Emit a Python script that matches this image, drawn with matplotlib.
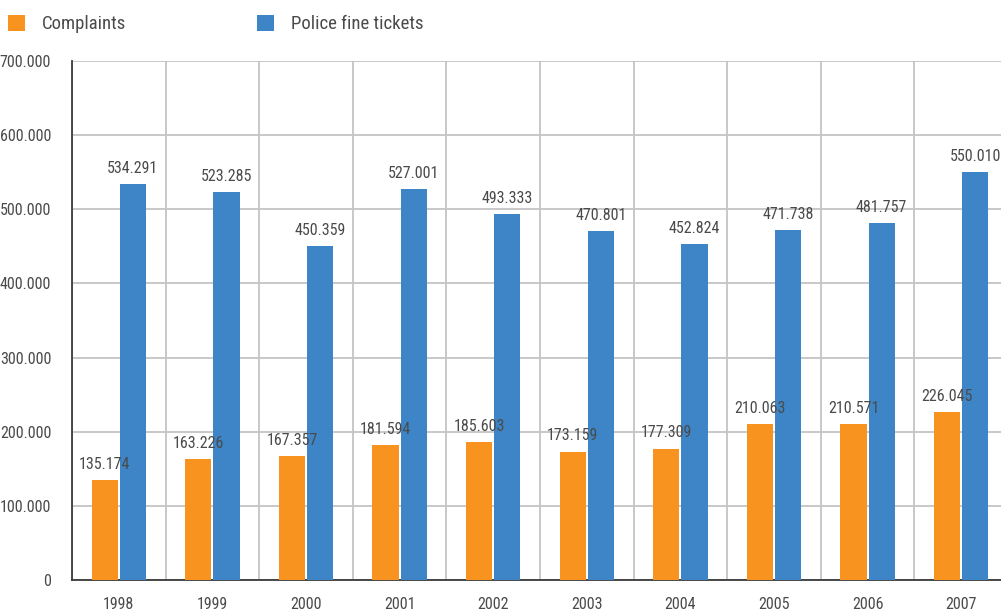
import numpy as np
import matplotlib.pyplot as plt
from matplotlib import font_manager as fm
from matplotlib.ticker import FuncFormatter

# Data
years = ['1998', '1999', '2000', '2001', '2002', '2003', '2004', '2005', '2006', '2007']
complaints = [135174, 163226, 167357, 181594, 185603, 173159, 177309, 210063, 210571, 226045]
fines = [534291, 523285, 450359, 527001, 493333, 470801, 452824, 471738, 481757, 550010]

orange = '#F7931E'
blue = '#3D85C6'
text_col = '#4a4a4a'

# Look for a narrow / condensed sans font (reference uses a condensed face)
narrow = [f for f in fm.fontManager.ttflist
          if f.style == 'normal' and f.weight in (400, 'normal', 'regular')
          and ('Narrow' in f.name or 'Condensed' in f.name
               or f.stretch in ('condensed', 'semi-condensed', 'extra-condensed'))]
if narrow:
    pick = sorted(narrow, key=lambda f: (f.name != 'Roboto Condensed',
                                         f.name != 'Liberation Sans Narrow'))[0]
    plt.rcParams['font.family'] = [pick.name, 'DejaVu Sans']
    plt.rcParams['font.stretch'] = pick.stretch
else:
    plt.rcParams['font.family'] = ['DejaVu Sans']


def dotted(v, pos=None):
    # thousands separated with dots
    return f'{int(v):,}'.replace(',', '.')


fig = plt.figure(figsize=(10.01, 6.12), dpi=100)
ax = fig.add_axes([72 / 1001, 32 / 612, 936 / 1001, 519 / 612])

x = np.arange(len(years))
w = 0.28
ax.bar(x - 0.15, complaints, w, color=orange, zorder=3, label='Complaints')
ax.bar(x + 0.15, fines, w, color=blue, zorder=3, label='Police fine tickets')

# Value labels
for xi, v in zip(x, complaints):
    ax.text(xi - 0.15, v + 11000, dotted(v), ha='center', va='bottom',
            fontsize=11.5, color=text_col, zorder=4)
for xi, v in zip(x, fines):
    ax.text(xi + 0.15, v + 11000, dotted(v), ha='center', va='bottom',
            fontsize=11.5, color=text_col, zorder=4)

ax.set_xlim(-0.5, 9.5)
ax.set_ylim(0, 700000)
ax.set_yticks(np.arange(0, 700001, 100000))
ax.yaxis.set_major_formatter(FuncFormatter(dotted))
ax.set_xticks(x)
ax.set_xticklabels(years)
ax.set_xticks(np.arange(-0.5, 10, 1), minor=True)

# Grid
ax.grid(axis='y', color='#c4c4c4', linewidth=1.3, zorder=0)
ax.grid(axis='x', which='minor', color='#c4c4c4', linewidth=1.3, zorder=0)
ax.grid(axis='x', which='major', visible=False)

for s in ['top', 'right']:
    ax.spines[s].set_visible(False)
for s in ['left', 'bottom']:
    ax.spines[s].set_color('#3a3a3a')
    ax.spines[s].set_linewidth(1.3)

ax.tick_params(axis='both', which='both', length=0, labelsize=11.5, colors=text_col)
ax.tick_params(axis='y', pad=15)
ax.tick_params(axis='x', pad=12)

# Legend
ax.legend(loc='upper left', bbox_to_anchor=(-64 / 936, 1 + 46 / 519), ncol=2,
          frameon=False, fontsize=13.5, handlelength=0.9, handleheight=0.9,
          handletextpad=0.9, columnspacing=7.0, labelcolor=text_col,
          borderaxespad=0, borderpad=0)

fig.savefig('out.png', dpi=100)
